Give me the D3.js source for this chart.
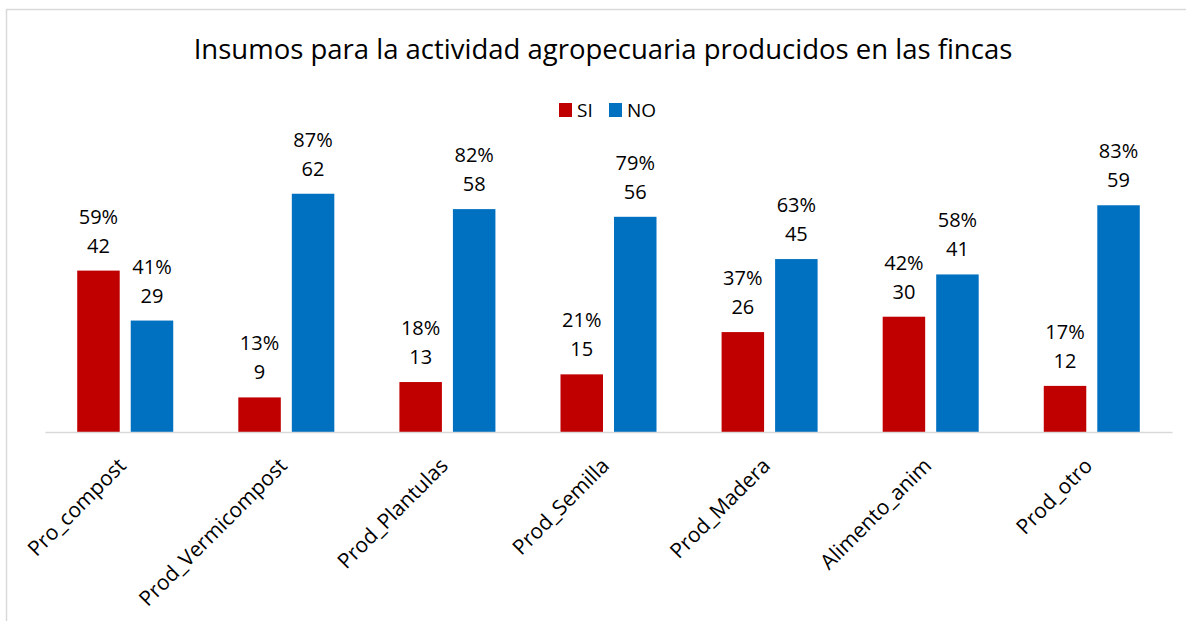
<!DOCTYPE html>
<html>
<head>
<meta charset="utf-8">
<script src="https://cdn.jsdelivr.net/npm/d3@7"></script>
<style>
  body { margin: 0; background: #fff; }
  svg { font-family: "Open Sans", sans-serif; }
</style>
</head>
<body>
<svg width="1186" height="621"></svg>
<script>
// data
const categories = ["Pro_compost", "Prod_Vermicompost", "Prod_Plantulas", "Prod_Semilla", "Prod_Madera", "Alimento_anim", "Prod_otro"];
const series = ["SI", "NO"];
const siCounts = [42, 9, 13, 15, 26, 30, 12];
const noCounts = [29, 62, 58, 56, 45, 41, 59];
const siPct = [59, 13, 18, 21, 37, 42, 17];
const noPct = [41, 87, 82, 79, 63, 58, 83];
const colors = { SI: "#C00000", NO: "#0070C0" };

const svg = d3.select("svg");

// frame round the chart
svg.append("rect")
  .attr("x", 6.5).attr("y", 9.5)
  .attr("width", 1300).attr("height", 800)
  .attr("fill", "none").attr("stroke", "#d9d9d9").attr("stroke-width", 1.5);

svg.append("text")
  .attr("x", 603).attr("y", 59)
  .attr("text-anchor", "middle")
  .attr("font-size", 27.5)
  .attr("fill", "#000")
  .text("Insumos para la actividad agropecuaria producidos en las fincas");

// scales
const x0 = d3.scaleBand().domain(categories).range([45, 1172])
  .paddingInner(0.404).paddingOuter(0.2);
const x1 = d3.scaleBand().domain(series).range([0, x0.bandwidth()]).paddingInner(0.206);
const y = d3.scaleLinear().domain([0, 70]).range([432, 163]);

const rows = categories.map((c, i) => ({
  cat: c,
  vals: [
    { s: "SI", v: siCounts[i], p: siPct[i] },
    { s: "NO", v: noCounts[i], p: noPct[i] }
  ]
}));

const groups = svg.selectAll(".grp")
  .data(rows)
  .enter().append("g")
  .attr("class", "grp")
  .attr("transform", d => `translate(${x0(d.cat)},0)`);

groups.selectAll("rect")
  .data(d => d.vals)
  .enter().append("rect")
  .attr("x", d => x1(d.s))
  .attr("y", d => y(d.v))
  .attr("width", x1.bandwidth())
  .attr("height", d => y(0) - y(d.v))
  .attr("fill", d => colors[d.s]);

// two-line labels: percent over count
const lbl = groups.selectAll(".lbl")
  .data(d => d.vals)
  .enter().append("text")
  .attr("class", "lbl")
  .attr("text-anchor", "middle")
  .attr("font-size", 20)
  .attr("fill", "#000");
lbl.append("tspan")
  .attr("x", d => x1(d.s) + x1.bandwidth() / 2)
  .attr("y", d => y(d.v) - 47)
  .text(d => d.p + "%");
lbl.append("tspan")
  .attr("x", d => x1(d.s) + x1.bandwidth() / 2)
  .attr("y", d => y(d.v) - 18)
  .text(d => d.v);

// x axis
const xAxis = svg.append("g")
  .attr("transform", "translate(0,432)")
  .call(d3.axisBottom(x0).tickSize(0).tickSizeOuter(0));
xAxis.select(".domain").attr("stroke", "#d9d9d9").attr("stroke-width", 1.5);
xAxis.selectAll("text")
  .attr("font-family", "Open Sans, sans-serif")
  .attr("font-size", 21)
  .attr("fill", "#000")
  .attr("text-anchor", "end")
  .attr("dy", null)
  .attr("y", 0)
  .attr("transform", "translate(2,35) rotate(-45)");

// legend
const legend = svg.append("g");
const legX = [559, 609];
series.forEach((s, i) => {
  legend.append("rect")
    .attr("x", legX[i]).attr("y", 103)
    .attr("width", 13).attr("height", 14)
    .attr("fill", colors[s]);
  legend.append("text")
    .attr("x", legX[i] + 18).attr("y", 117)
    .attr("font-size", 19)
    .attr("fill", "#000")
    .text(s);
});
</script>
</body>
</html>
